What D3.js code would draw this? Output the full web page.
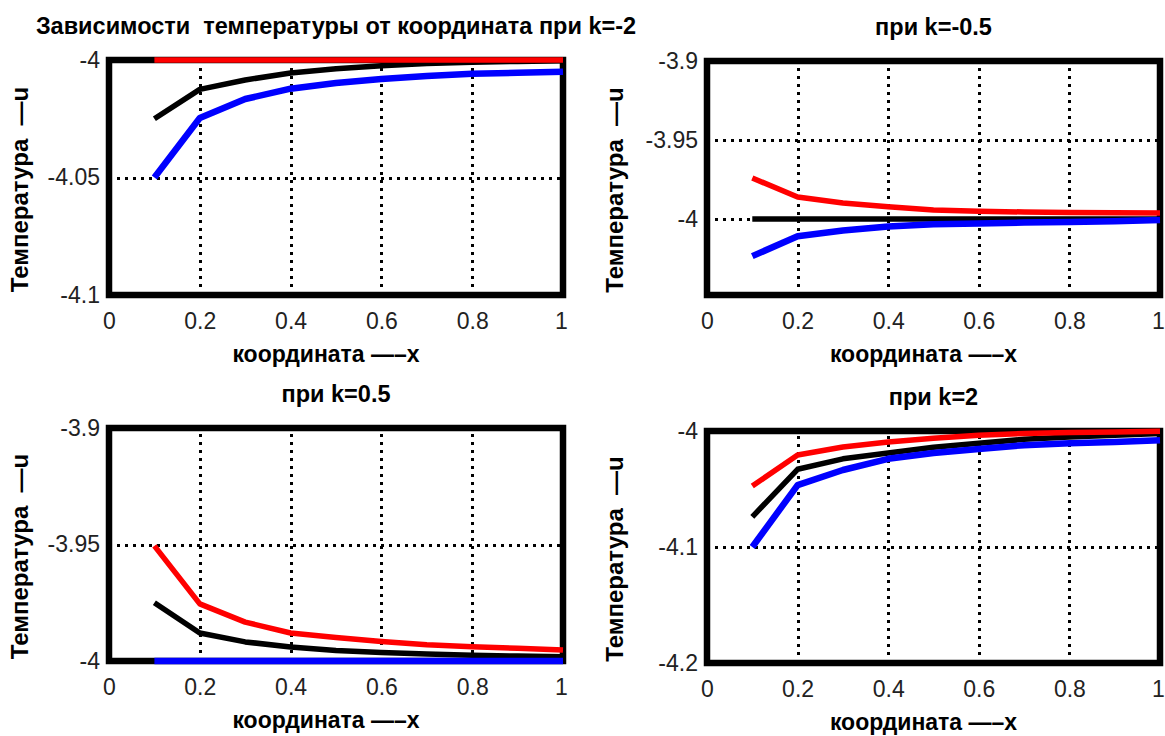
<!DOCTYPE html>
<html>
<head>
<meta charset="utf-8">
<style>
  body { margin: 0; background: #fff; }
  text { font-family: "Liberation Sans", Arial, sans-serif; white-space: pre; }
</style>
</head>
<body>
<div id="container"></div>
<script src="https://cdn.jsdelivr.net/npm/d3@7"></script>
<script>
// x coordinates shared by every curve
const xValues = [0.1, 0.2, 0.3, 0.4, 0.5, 0.6, 0.7, 0.8, 0.9, 1.0];
const xTicks = [0, 0.2, 0.4, 0.6, 0.8, 1];
const xGrid = [0.2, 0.4, 0.6, 0.8];

// k = -2
const redKm2   = [-4, -4, -4, -4, -4, -4, -4, -4, -4, -4];
const blackKm2 = [-4.025, -4.0125, -4.0085, -4.0055, -4.0037, -4.0024, -4.0015, -4.001, -4.0006, -4.0003];
const blueKm2  = [-4.05, -4.0247, -4.0166, -4.0122, -4.0098, -4.0081, -4.0068, -4.0059, -4.0054, -4.005];
const yTicksKm2 = [-4, -4.05, -4.1];

// k = -0.5
const redKm05   = [-3.974, -3.986, -3.9898, -3.9922, -3.9942, -3.995, -3.9955, -3.9958, -3.996, -3.9962];
const blackKm05 = [-4, -4, -4, -4, -4, -4, -4, -4, -4, -4];
const blueKm05  = [-4.0234, -4.0108, -4.0072, -4.0047, -4.0032, -4.0028, -4.0022, -4.0018, -4.0014, -4.0006];
const yTicksKm05 = [-3.9, -3.95, -4];

// k = 0.5
const redK05   = [-3.9506, -3.9755, -3.9833, -3.988, -3.9899, -3.9916, -3.993, -3.9939, -3.9945, -3.9953];
const blackK05 = [-3.975, -3.988, -3.9918, -3.994, -3.9955, -3.9964, -3.997, -3.9975, -3.9979, -3.9982];
const blueK05  = [-4, -4, -4, -4, -4, -4, -4, -4, -4, -4];
const yTicksK05 = [-3.9, -3.95, -4];

// k = 2
const redK2   = [-4.0474, -4.0207, -4.0138, -4.0095, -4.0062, -4.0036, -4.0022, -4.0014, -4.0008, -4.0003];
const blackK2 = [-4.074, -4.033, -4.024, -4.019, -4.014, -4.0105, -4.0072, -4.0052, -4.0036, -4.0022];
const blueK2  = [-4.1, -4.0466, -4.0336, -4.024, -4.019, -4.0155, -4.0122, -4.0105, -4.0095, -4.008];
const yTicksK2 = [-4, -4.1, -4.2];

const xLabel = "координата —–x";
const yLabel = "Температура  —u";

const panels = [
  { title: "Зависимости  температуры от координата при k=-2", left: 109, right: 563, top: 60, bottom: 295,
    yDomain: [-4.1, -4], yTicks: yTicksKm2, yGrid: [-4.05], red: redKm2, black: blackKm2, blue: blueKm2 },
  { title: "при k=-0.5", left: 707, right: 1160, top: 61, bottom: 295,
    yDomain: [-4.048, -3.9], yTicks: yTicksKm05, yGrid: [-3.95, -4], red: redKm05, black: blackKm05, blue: blueKm05 },
  { title: "при k=0.5", left: 109, right: 563, top: 428, bottom: 661,
    yDomain: [-4, -3.9], yTicks: yTicksK05, yGrid: [-3.95], red: redK05, black: blackK05, blue: blueK05 },
  { title: "при k=2", left: 707, right: 1160, top: 431, bottom: 663,
    yDomain: [-4.2, -4], yTicks: yTicksK2, yGrid: [-4.1], red: redK2, black: blackK2, blue: blueK2 }
];

const svg = d3.select("#container")
  .append("svg")
  .attr("width", 1165)
  .attr("height", 736);

panels.forEach(p => {
  const w = p.right - p.left;
  const h = p.bottom - p.top;
  const x = d3.scaleLinear().domain([0, 1]).range([0, w]);
  const y = d3.scaleLinear().domain(p.yDomain).range([h, 0]);

  const g = svg.append("g").attr("transform", `translate(${p.left},${p.top})`);

  // dotted grid
  const gx = g.append("g")
    .attr("transform", `translate(0,${h})`)
    .call(d3.axisBottom(x).tickValues(xGrid).tickSize(-h).tickFormat(""));
  const gy = g.append("g")
    .call(d3.axisLeft(y).tickValues(p.yGrid).tickSize(-w).tickFormat(""));
  [gx, gy].forEach(a => {
    a.select(".domain").remove();
    a.selectAll("line")
      .attr("stroke", "#000")
      .attr("stroke-width", 3)
      .attr("stroke-dasharray", "3,5")
      .attr("shape-rendering", "crispEdges");
  });

  // tick labels
  const ax = g.append("g")
    .attr("transform", `translate(0,${h})`)
    .call(d3.axisBottom(x).tickValues(xTicks).tickSize(0).tickPadding(18).tickFormat(d => String(d)));
  const ay = g.append("g")
    .call(d3.axisLeft(y).tickValues(p.yTicks).tickSize(0).tickPadding(9).tickFormat(d => String(d)));
  [ax, ay].forEach(a => {
    a.select(".domain").remove();
    a.selectAll("text")
      .attr("fill", "#222")
      .style("font-size", "23px");
  });
  // keep the "1" label inside the page edge
  ax.selectAll("text").filter(d => d === 1).attr("dx", -2);

  // frame
  g.append("rect")
    .attr("x", 0).attr("y", 0)
    .attr("width", w).attr("height", h)
    .attr("fill", "none")
    .attr("stroke", "#000")
    .attr("stroke-width", 6.5);

  const line = d3.line()
    .x((d, i) => x(xValues[i]))
    .y(d => y(d));

  [["#000", p.black, 5.5], ["#ff0000", p.red, 5.5], ["#0000ff", p.blue, 6.5]].forEach(([c, vals, sw]) => {
    g.append("path")
      .datum(vals)
      .attr("d", line)
      .attr("fill", "none")
      .attr("stroke", c)
      .attr("stroke-width", sw)
      .attr("stroke-linejoin", "round");
  });

  // titles and axis labels
  g.append("text")
    .attr("x", w / 2)
    .attr("y", -26)
    .attr("text-anchor", "middle")
    .style("font-size", "23.5px")
    .style("font-weight", "bold")
    .text(p.title);

  g.append("text")
    .attr("x", w / 2 - 10)
    .attr("y", h + 67)
    .attr("text-anchor", "middle")
    .style("font-size", "23px")
    .style("font-weight", "bold")
    .text(xLabel);

  g.append("text")
    .attr("transform", `translate(${p.left < 300 ? -81 : -84},${h / 2 + 12}) rotate(-90)`)
    .attr("text-anchor", "middle")
    .style("font-size", "24px")
    .style("font-weight", "bold")
    .text(yLabel);
});
</script>
</body>
</html>
